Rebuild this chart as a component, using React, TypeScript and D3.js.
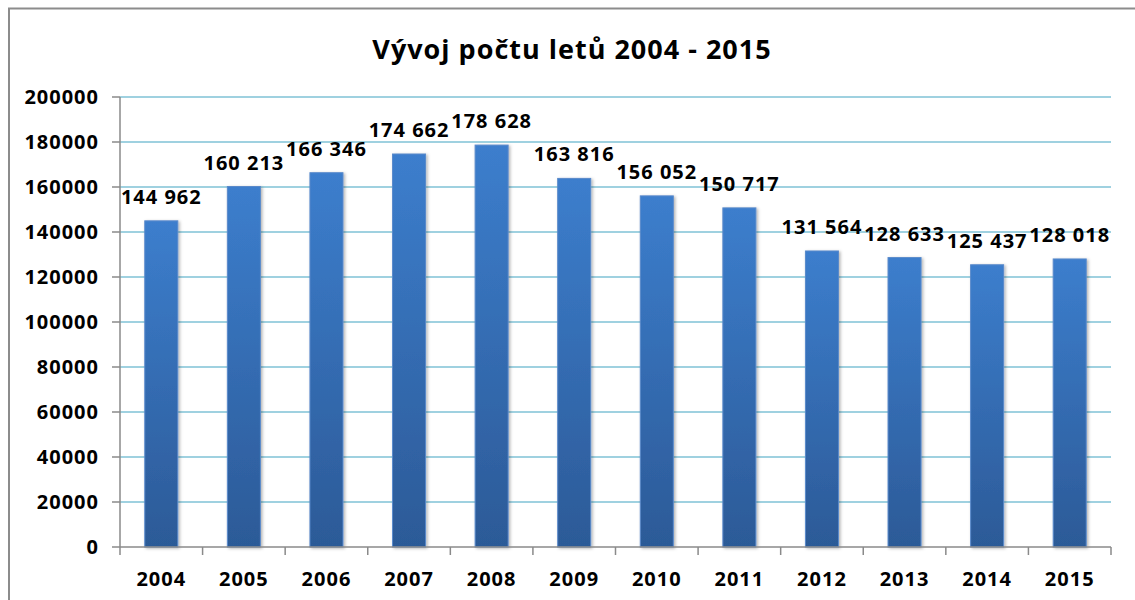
import React from "react";
import * as d3 from "d3";

// chart data
const years = ["2004", "2005", "2006", "2007", "2008", "2009", "2010", "2011", "2012", "2013", "2014", "2015"];
const flights = [144962, 160213, 166346, 174662, 178628, 163816, 156052, 150717, 131564, 128633, 125437, 128018];
const yTicks = [0, 20000, 40000, 60000, 80000, 100000, 120000, 140000, 160000, 180000, 200000];
const title = "Vývoj počtu letů 2004 - 2015";

const W = 1135;
const H = 600;
const left = 120;
const right = 1111;
const top = 97;
const bottom = 547;

const font = "'Open Sans', 'DejaVu Sans', sans-serif";
const fmt = d3.formatLocale({ decimal: ",", thousands: " ", grouping: [3], currency: ["", ""] }).format(",d");

export default function App() {
  const x = d3.scaleBand<string>().domain(years).range([left, right]).paddingInner(0.6).paddingOuter(0.3);
  const band = d3.scaleBand<string>().domain(years).range([left, right]);
  const y = d3.scaleLinear().domain([0, 200000]).range([bottom, top]);

  const label = { fontFamily: font, fontWeight: "bold", fontSize: 20, letterSpacing: 1, fill: "#000" } as const;

  return (
    <svg width={W} height={H} style={{ position: "absolute", left: 0, top: 0, background: "#fff" }}>
      <defs>
        <linearGradient id="barGrad" x1="0" y1="0" x2="0" y2="1">
          <stop offset="0%" stopColor="#3c7ecd" />
          <stop offset="100%" stopColor="#2c5a97" />
        </linearGradient>
        <filter id="shadow" x="-20%" y="-5%" width="150%" height="115%">
          <feDropShadow dx="1.5" dy="1" stdDeviation="1.5" floodColor="#000" floodOpacity="0.3" />
        </filter>
      </defs>

      {/* outer frame */}
      <rect x={9} y={8.5} width={1140} height={610} fill="none" stroke="#8c8c8c" strokeWidth={2} />

      <text x={572} y={59} textAnchor="middle" fontFamily={font} fontWeight="bold" fontSize={27} letterSpacing={1} fill="#000">
        {title}
      </text>

      {/* grid lines */}
      {yTicks.slice(1).map((t) => (
        <line key={t} x1={left} x2={right} y1={y(t)} y2={y(t)} stroke="#7fc2d6" strokeWidth={1.3} />
      ))}

      {/* y axis */}
      <line x1={left} x2={left} y1={top} y2={bottom} stroke="#8a8a8a" strokeWidth={1.5} />
      {yTicks.map((t) => (
        <g key={t}>
          <line x1={left - 8} x2={left} y1={y(t)} y2={y(t)} stroke="#8a8a8a" strokeWidth={1.5} />
          <text x={99} y={y(t)} dy="0.36em" textAnchor="end" {...label}>
            {t}
          </text>
        </g>
      ))}

      {/* bars */}
      {flights.map((v, i) => (
        <rect
          key={years[i]}
          x={x(years[i])}
          y={y(v)}
          width={x.bandwidth()}
          height={bottom - y(v)}
          fill="url(#barGrad)"
          stroke="#5a8acb"
          strokeWidth={1}
          filter="url(#shadow)"
        />
      ))}

      {/* value labels */}
      {flights.map((v, i) => (
        <text key={"l" + years[i]} x={x(years[i])! + x.bandwidth() / 2} y={y(v) - 17} textAnchor="middle" {...label}>
          {fmt(v)}
        </text>
      ))}

      {/* x axis */}
      <line x1={left} x2={right} y1={bottom} y2={bottom} stroke="#8a8a8a" strokeWidth={1.5} />
      {years.map((yr) => (
        <line key={"t" + yr} x1={band(yr)} x2={band(yr)} y1={bottom} y2={bottom + 8} stroke="#8a8a8a" strokeWidth={1.5} />
      ))}
      <line x1={right} x2={right} y1={bottom} y2={bottom + 8} stroke="#8a8a8a" strokeWidth={1.5} />
      {years.map((yr) => (
        <text key={"x" + yr} x={band(yr)! + band.bandwidth() / 2} y={586} textAnchor="middle" {...label}>
          {yr}
        </text>
      ))}
    </svg>
  );
}
